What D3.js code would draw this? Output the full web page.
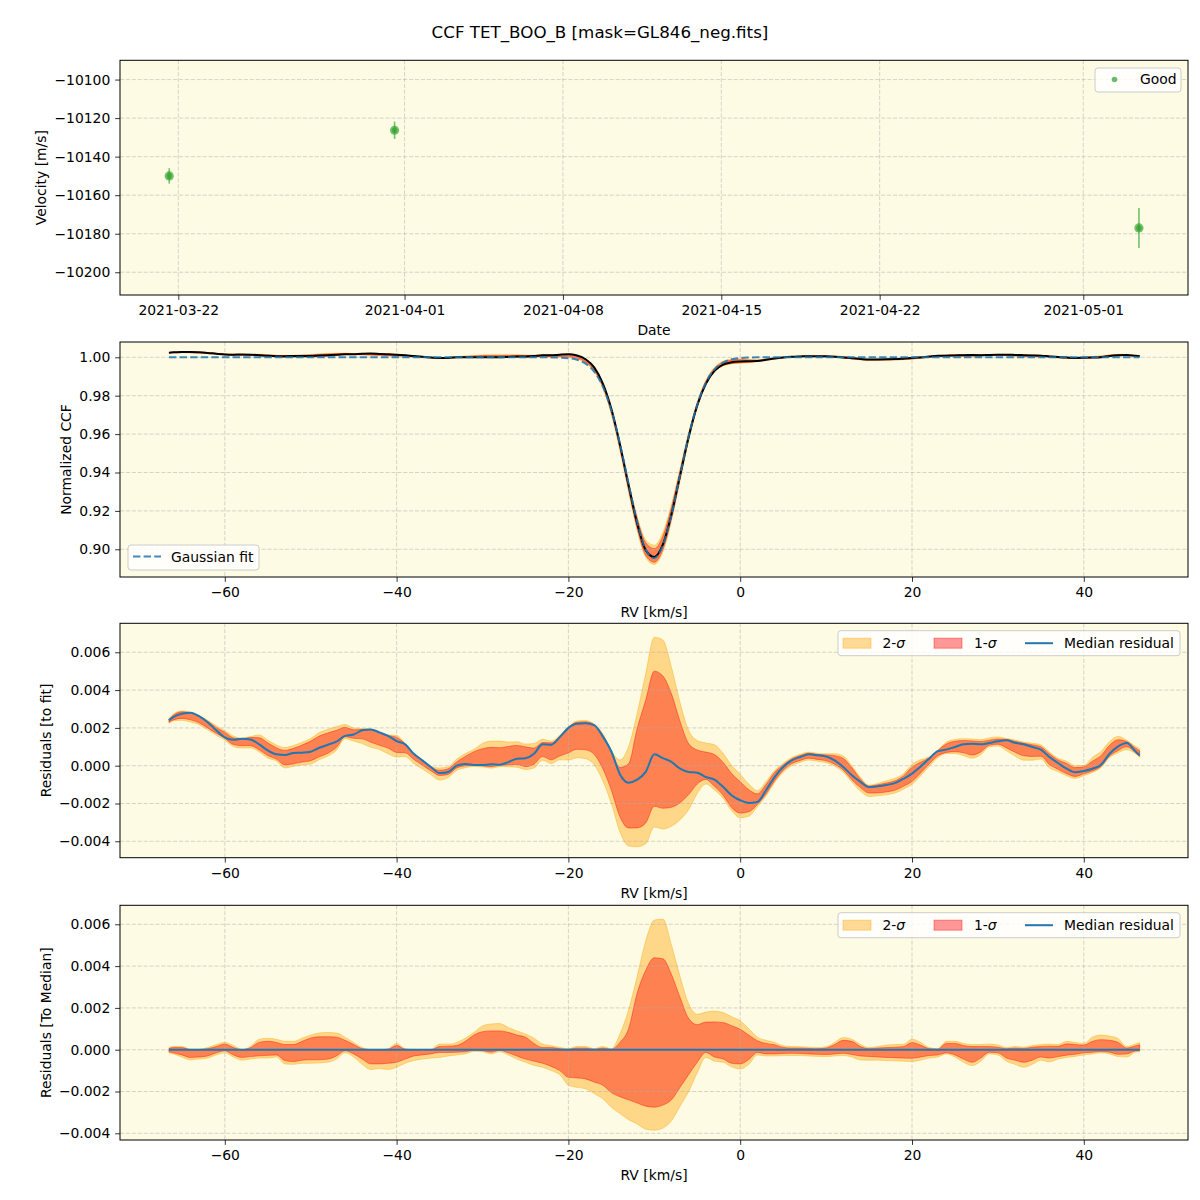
<!DOCTYPE html>
<html><head><meta charset="utf-8">
<script src="https://cdn.jsdelivr.net/npm/d3@7"></script>
<style>
body{margin:0;background:#fff;}
svg{display:block;font-family:"DejaVu Sans",sans-serif;}
</style></head><body>
<svg id="c" width="1200" height="1200"></svg>
<script>
// ---------------- DATA ----------------
const chartTitle = "CCF TET_BOO_B [mask=GL846_neg.fits]";
// Panel 1: RV time series
const obsDates = ["2021-03-21T14:24:00Z", "2021-03-31T13:26:00Z", "2021-05-03T11:02:00Z"];
const obsVel = [-10150, -10126.3, -10177];
const obsErr = [4, 4.5, 10.4];
const dateTicks = ["2021-03-22", "2021-04-01", "2021-04-08", "2021-04-15", "2021-04-22", "2021-05-01"];
const velTicks = [-10100, -10120, -10140, -10160, -10180, -10200];

// RV grid (km/s)
const rv = [-66.5,-66,-65,-64,-63,-62,-61,-60,-59,-58,
  -57,-56,-55,-54,-53,-52,-51,-50,-49,-48,
  -47,-46,-45,-44,-43,-42,-41,-40,-39,-38,
  -37,-36,-35,-34,-33,-32,-31,-30,-29,-28,
  -27,-26,-25,-24,-23,-22,-21,-20,-19,-18,
  -17,-16,-15,-14,-13,-12,-11,-10,-9,-8,
  -7,-6,-5,-4,-3,-2,-1,0,1,2,
  3,4,5,6,7,8,9,10,11,12,
  13,14,15,16,17,18,19,20,21,22,
  23,24,25,26,27,28,29,30,31,32,
  33,34,35,36,37,38,39,40,41,42,
  43,44,45,46,46.5];

// Gaussian fit of the CCF (normalized)
const gaussFit = [1,1,1,1,1,1,1,1,1,1,
  1,1,1,1,1,1,1,1,1,1,
  1,1,1,1,1,1,1,1,1,1,
  1,1,1,1,1,1,1,1,1,1,
  1,1,1,1,0.99999,0.99996,0.99986,0.99955,0.99871,0.99673,
  0.99257,0.98486,0.97242,0.95503,0.93437,0.91433,0.89991,0.89536,0.90210,0.91805,
  0.93862,0.95885,0.97532,0.98675,0.99363,0.99727,0.99895,0.99964,0.99989,0.99997,
  1,1,1,1,1,1,1,1,1,1,
  1,1,1,1,1,1,1,1,1,1,
  1,1,1,1,1,1,1,1,1,1,
  1,1,1,1,1,1,1,1,1,1,
  1,1,1,1,1];

const RES_UNIT = 1e-4; // residual arrays below are in units of 1e-4
// Median residual (CCF - fit)
const medianResidual = [24,25.7,27.5,28,26.2,23,18.7,15,13.7,14.3,
  13.9,11.3,8.1,6,5.6,6.7,6.9,7.4,9.5,11.1,
  12.7,15.8,16.5,18.7,19.2,17.6,15.8,13,11.3,6.3,
  2.8,-0.7,-3.9,-3.3,0,0.9,0.4,0.4,0.7,0.5,
  1.9,3.7,4,6.3,11.3,11.1,15.1,20,22.2,22.4,
  21.5,15.5,7.5,-4.5,-9,-7.4,-3.3,6,4,2,
  -1.6,-3.3,-3.7,-6,-7.4,-11.2,-15.6,-18.3,-19.7,-19.2,
  -13,-6,-0.7,2.8,4.6,6,5.5,4.9,2.8,-0.7,
  -5.1,-8.6,-11.3,-10.9,-10.2,-9.2,-6.9,-4.2,-0.4,3.7,
  7.7,8.5,9.9,11.3,11.6,11.3,12,12.9,13.4,12.1,
  11.3,9.9,8.5,4.6,1.4,-1.6,-3.5,-2.8,-1.6,0.5,
  6.3,10.2,12,7.6,5.5];
// Percentiles of residuals relative to the median (2-sigma upper/lower, 1-sigma upper/lower)
const upper2s = [1,1.5,1.5,0.3,0.3,1,2.5,3.5,2,0.2,
  1.5,5,5.5,5,4,4,5.5,7,8,8.2,
  8,6,3.5,1,0.2,0.2,0.5,3,0.5,0.2,
  0.2,0.2,2.7,2.7,3.5,5.5,8.3,11.4,12.3,12.5,
  10.6,9,7.5,5.5,2.7,1.9,1.1,0.5,1.5,1.5,
  0.5,1.5,0.5,7.5,19,35,52,62,62.5,50,
  35,22,17,18,18.5,17.8,15.8,13.8,10,6,
  4.5,3.5,1.9,1.5,1.4,1.2,1,1.4,3.5,5.8,
  5,2.5,1,1.5,2.2,2.5,2.6,5,3.5,1,
  0.5,4,4,3,2.5,2.5,2.7,2.3,1,1.5,
  1.2,2,2.5,2.7,2.5,4,3.5,3,6,7,
  6.5,5.3,1.5,2.7,3.5];
const upper1s = [0.5,1,1,0,0,0.5,1.5,2.7,1,0,
  1,3.5,4,3.5,2.5,2.5,4,5.6,6.2,6.2,
  6,4.5,2.5,0.5,0,0,0.2,2,0.2,0,
  0,0,1.5,1.7,2,4,7,8.6,9,9,
  8.3,7,6,3,1,1,0.5,0.2,0.8,0.8,
  0.2,0.8,0.2,3.5,10,27,38,44,43.5,36,
  25,15,12,13.2,13.3,13,11.5,9.8,7,4.3,
  3,2.4,1.1,0.8,0.8,0.6,0.5,0.8,2.5,4.5,
  4,1.5,0.5,0.8,1,1.2,1.5,3.4,2.2,0.5,
  0.3,3,3,2,1.5,1.5,1.5,1.2,0.5,0.8,
  0.6,1.2,1.5,1.7,1.6,2.8,2.5,2.2,4,4.8,
  4.5,3.5,0.8,1.8,2.4];
const lower1s = [-1,-1.5,-2.5,-3.7,-3.5,-3,-1.5,-0.5,-2.5,-3.7,
  -3.3,-2.9,-2.7,-2.5,-5.2,-5.7,-5,-4.8,-4.8,-4.5,
  -3,-0.5,-2,-4.5,-6.8,-6.8,-6.5,-6,-4.5,-3,
  -2.5,-2,-1.3,-1.3,-1.2,-1,-0.3,-0.5,-1.2,-0.3,
  -1.5,-3,-4.5,-5.5,-6.5,-8,-10,-13.2,-13.5,-14,
  -15.5,-17,-20.5,-22.5,-24,-25.5,-27,-27.5,-26.5,-24,
  -18,-12,-6,-1.3,-3.5,-4.4,-6.5,-6.8,-4.7,-1.3,
  -2,-2,-1.8,-1.7,-1.8,-2,-2.2,-2.3,-2,-1.7,
  -2.3,-3,-3.2,-3.5,-3.7,-3.8,-4,-4.1,-3.5,-2.8,
  -2.5,-1.5,-2.5,-4.5,-6,-4,-1.2,-1.5,-4,-5,
  -6,-5,-3.5,-4,-3.3,-2.6,-2.2,-1.5,-1.2,-0.9,
  -1.2,-2.2,-2,-0.6,-0.5];
const lower2s = [-1.5,-2,-3.5,-4.9,-4.5,-4,-2.5,-1.5,-3.5,-5,
  -4.5,-4,-4,-3.5,-6.8,-7,-6.5,-6.5,-6.3,-6,
  -4.5,-1.5,-3.5,-7,-9.5,-9,-9.5,-8.4,-6.5,-5.2,
  -4.5,-4,-3.7,-3,-2.5,-2,-0.8,-1,-2,-1,
  -2.5,-4.5,-6,-7.5,-8.4,-10,-12,-17,-18,-18.7,
  -21,-23.5,-27.5,-30.5,-33.5,-35.5,-38,-38.5,-37.5,-34,
  -27,-20,-11,-3.7,-5.5,-6,-8.2,-9.2,-7,-2.5,
  -3,-3,-2.8,-2.8,-2.8,-3,-3.2,-3.3,-3,-2.8,
  -3.5,-4.9,-5,-5,-5.2,-5.3,-5.5,-5.6,-5,-4,
  -3.5,-2,-3.5,-6,-7.6,-5.5,-2,-2.5,-5.5,-7,
  -8.4,-7,-5,-5.8,-4.5,-3.7,-3.2,-2.5,-2,-1.5,
  -2,-3.3,-3.5,-1.2,-1];
// Median of residuals relative to the median (flat line) at the grid ends
const medianToMedianRv = [-66.5, 46.5];
const medianToMedian = [0, 0];

const rvTicks = [-60, -40, -20, 0, 20, 40];
const ccfTicks = [0.90, 0.92, 0.94, 0.96, 0.98, 1.00];
const resTicks = [-0.004, -0.002, 0, 0.002, 0.004, 0.006];

// ---------------- LAYOUT / STYLE ----------------
const X0 = 120, X1 = 1188;
const BG = "#fdfbe3";
const FS = 13.9;
const TICK = 4.86;
const C_BLUE = "#1f77b4";
const C_GREEN = "#2ca02c";

const svg = d3.select("#c");
svg.append("rect").attr("width", 1200).attr("height", 1200).attr("fill", "#fff");

svg.append("text").attr("x", 600).attr("y", 38).attr("text-anchor", "middle")
  .attr("font-size", 16.7).attr("fill", "#000").text(chartTitle);

// table built from arrays
const rows = rv.map((v, i) => {
  const fit = gaussFit[i];
  const med = medianResidual[i] * RES_UNIT;
  return {
    rv: v, fit: fit, med: med,
    u2: upper2s[i] * RES_UNIT, u1: upper1s[i] * RES_UNIT,
    l1: lower1s[i] * RES_UNIT, l2: lower2s[i] * RES_UNIT
  };
});

const rvScale = () => d3.scaleLinear().domain([-72.2, 52.13]).range([X0, X1]);

function makePanel(top, bottom) {
  const g = svg.append("g");
  g.append("rect").attr("x", X0).attr("y", top).attr("width", X1 - X0).attr("height", bottom - top).attr("fill", BG);
  return g;
}
function grid(g, x, y, xt, yt, top, bottom) {
  const gg = g.append("g").attr("stroke", "#b0b0b0").attr("stroke-opacity", 0.65)
    .attr("stroke-width", 0.8).attr("stroke-dasharray", "4.1,1.8");
  xt.forEach(t => gg.append("line").attr("x1", x(t)).attr("x2", x(t)).attr("y1", top).attr("y2", bottom));
  yt.forEach(t => gg.append("line").attr("x1", X0).attr("x2", X1).attr("y1", y(t)).attr("y2", y(t)));
}
function axes(g, x, y, xt, yt, xfmt, yfmt, top, bottom) {
  g.append("rect").attr("x", X0).attr("y", top).attr("width", X1 - X0).attr("height", bottom - top)
    .attr("fill", "none").attr("stroke", "#000").attr("stroke-width", 1);
  const ax = g.append("g").attr("transform", `translate(0,${bottom})`)
    .call(d3.axisBottom(x).tickValues(xt).tickFormat(xfmt).tickSize(TICK).tickPadding(TICK));
  ax.select(".domain").remove();
  ax.selectAll("text").attr("font-size", FS).attr("font-family", "DejaVu Sans").attr("fill", "#000").attr("dy", "0.76em");
  ax.selectAll("line").attr("stroke", "#000").attr("stroke-width", 0.8);
  const ay = g.append("g").attr("transform", `translate(${X0},0)`)
    .call(d3.axisLeft(y).tickValues(yt).tickFormat(yfmt).tickSize(TICK).tickPadding(TICK));
  ay.select(".domain").remove();
  ay.selectAll("text").attr("font-size", FS).attr("font-family", "DejaVu Sans").attr("fill", "#000");
  ay.selectAll("line").attr("stroke", "#000").attr("stroke-width", 0.8);
}
function xlabel(txt, yb) {
  svg.append("text").attr("x", (X0 + X1) / 2).attr("y", yb).attr("text-anchor", "middle")
    .attr("font-size", FS).attr("fill", "#000").text(txt);
}
function ylabel(txt, xc, yc) {
  svg.append("text").attr("transform", `translate(${xc},${yc}) rotate(-90)`)
    .attr("text-anchor", "middle").attr("dy", "0.35em").attr("font-size", FS).attr("fill", "#000").text(txt);
}
function legendBox(g, x, y, w, h) {
  g.append("rect").attr("x", x).attr("y", y).attr("width", w).attr("height", h).attr("rx", 3)
    .attr("fill", "#fff").attr("fill-opacity", 0.8).attr("stroke", "#cccccc").attr("stroke-width", 1);
}
function bandPath(g, data, x, y, lo, hi, color) {
  const area = d3.area().x(d => x(d.rv)).y0(d => y(lo(d))).y1(d => y(hi(d))).curve(d3.curveMonotoneX);
  g.append("path").datum(data).attr("d", area).attr("fill", color).attr("fill-opacity", 0.4)
    .attr("stroke", color).attr("stroke-opacity", 0.4).attr("stroke-width", 1);
}
function sigmaLegend(g, top) {
  const ly = top + 7.4;
  legendBox(g, 838, ly, 342, 25);
  const cy = ly + 12.5;
  g.append("rect").attr("x", 843).attr("y", cy - 5).attr("width", 28).attr("height", 10)
    .attr("fill", "orange").attr("fill-opacity", 0.4).attr("stroke", "orange").attr("stroke-opacity", 0.4);
  const t1 = g.append("text").attr("x", 882.5).attr("y", cy + 5).attr("font-size", FS).attr("fill", "#000");
  t1.append("tspan").text("2-");
  t1.append("tspan").attr("font-style", "italic").text("σ");
  g.append("rect").attr("x", 934).attr("y", cy - 5).attr("width", 28).attr("height", 10)
    .attr("fill", "red").attr("fill-opacity", 0.4).attr("stroke", "red").attr("stroke-opacity", 0.4);
  const t2 = g.append("text").attr("x", 974).attr("y", cy + 5).attr("font-size", FS).attr("fill", "#000");
  t2.append("tspan").text("1-");
  t2.append("tspan").attr("font-style", "italic").text("σ");
  g.append("line").attr("x1", 1025).attr("x2", 1053).attr("y1", cy).attr("y2", cy)
    .attr("stroke", C_BLUE).attr("stroke-width", 2);
  g.append("text").attr("x", 1064).attr("y", cy + 5).attr("font-size", FS).attr("fill", "#000").text("Median residual");
}

// ---------------- PANEL 1 ----------------
{
  const top = 60.3, bottom = 295;
  const parse = d3.utcParse("%Y-%m-%d");
  const parseT = d3.isoParse;
  const d0 = parse("2021-03-22"), d1 = parse("2021-05-01");
  const day = 86400000;
  const x = d3.scaleUtc().domain([new Date(+d0 - 2.577 * day), new Date(+d1 + 4.628 * day)]).range([X0, X1]);
  const y = d3.scaleLinear().domain([-10211.8, -10090]).range([bottom, top]);
  const g = makePanel(top, bottom);
  const xt = dateTicks.map(parse);
  grid(g, x, y, xt, velTicks, top, bottom);
  const pts = obsDates.map((d, i) => ({ t: parseT(d), v: obsVel[i], e: obsErr[i] }));
  pts.forEach(p => {
    g.append("line").attr("x1", x(p.t)).attr("x2", x(p.t)).attr("y1", y(p.v - p.e)).attr("y2", y(p.v + p.e))
      .attr("stroke", C_GREEN).attr("stroke-opacity", 0.65).attr("stroke-width", 1.6);
    g.append("circle").attr("cx", x(p.t)).attr("cy", y(p.v)).attr("r", 4.6)
      .attr("fill", C_GREEN).attr("fill-opacity", 0.65);
    g.append("circle").attr("cx", x(p.t)).attr("cy", y(p.v)).attr("r", 2.8)
      .attr("fill", C_GREEN).attr("fill-opacity", 0.6);
  });
  axes(g, x, y, xt, velTicks, d3.utcFormat("%Y-%m-%d"), d3.format("d"), top, bottom);
  legendBox(g, 1095, 68, 86, 24);
  g.append("circle").attr("cx", 1114.5).attr("cy", 79.5).attr("r", 2.8).attr("fill", C_GREEN).attr("fill-opacity", 0.7);
  g.append("text").attr("x", 1140).attr("y", 84).attr("font-size", FS).attr("fill", "#000").text("Good");
  xlabel("Date", 335);
  ylabel("Velocity [m/s]", 41.5, (top + bottom) / 2);
}

// ---------------- PANEL 2 ----------------
{
  const top = 342, bottom = 577;
  const x = rvScale();
  const y = d3.scaleLinear().domain([0.88557, 1.00797]).range([bottom, top]);
  const g = makePanel(top, bottom);
  bandPath(g, rows, x, y, d => d.fit + d.med + d.l2, d => d.fit + d.med + d.u2, "orange");
  bandPath(g, rows, x, y, d => d.fit + d.med + d.l1, d => d.fit + d.med + d.u1, "red");
  grid(g, x, y, rvTicks, ccfTicks, top, bottom);
  const lineCCF = d3.line().x(d => x(d.rv)).y(d => y(d.fit + d.med)).curve(d3.curveMonotoneX);
  g.append("path").datum(rows).attr("d", lineCCF).attr("fill", "none").attr("stroke", "#000").attr("stroke-width", 2);
  const lineFit = d3.line().x(d => x(d.rv)).y(d => y(d.fit)).curve(d3.curveMonotoneX);
  g.append("path").datum(rows).attr("d", lineFit).attr("fill", "none").attr("stroke", C_BLUE)
    .attr("stroke-opacity", 0.85).attr("stroke-width", 2).attr("stroke-dasharray", "7.4,3.2");
  axes(g, x, y, rvTicks, ccfTicks, d3.format("d"), d3.format(".2f"), top, bottom);
  legendBox(g, 128, 545, 131, 25);
  g.append("line").attr("x1", 133).attr("x2", 161).attr("y1", 556.5).attr("y2", 556.5)
    .attr("stroke", C_BLUE).attr("stroke-opacity", 0.85).attr("stroke-width", 2).attr("stroke-dasharray", "7.4,3.2");
  g.append("text").attr("x", 171).attr("y", 561.5).attr("font-size", FS).attr("fill", "#000").text("Gaussian fit");
  xlabel("RV [km/s]", 617);
  ylabel("Normalized CCF", 66, (top + bottom) / 2);
}

// ---------------- PANEL 3 ----------------
{
  const top = 623.3, bottom = 857.7;
  const x = rvScale();
  const y = d3.scaleLinear().domain([-0.004868, 0.007534]).range([bottom, top]);
  const g = makePanel(top, bottom);
  bandPath(g, rows, x, y, d => d.med + d.l2, d => d.med + d.u2, "orange");
  bandPath(g, rows, x, y, d => d.med + d.l1, d => d.med + d.u1, "red");
  grid(g, x, y, rvTicks, resTicks, top, bottom);
  const lineMed = d3.line().x(d => x(d.rv)).y(d => y(d.med)).curve(d3.curveMonotoneX);
  g.append("path").datum(rows).attr("d", lineMed).attr("fill", "none").attr("stroke", C_BLUE).attr("stroke-width", 2);
  axes(g, x, y, rvTicks, resTicks, d3.format("d"), d3.format(".3f"), top, bottom);
  sigmaLegend(g, top);
  xlabel("RV [km/s]", 898);
  ylabel("Residuals [to fit]", 46, (top + bottom) / 2);
}

// ---------------- PANEL 4 ----------------
{
  const top = 905.3, bottom = 1140;
  const x = rvScale();
  const y = d3.scaleLinear().domain([-0.00432, 0.006909]).range([bottom, top]);
  const g = makePanel(top, bottom);
  bandPath(g, rows, x, y, d => d.l2, d => d.u2, "orange");
  bandPath(g, rows, x, y, d => d.l1, d => d.u1, "red");
  grid(g, x, y, rvTicks, resTicks, top, bottom);
  const flat = medianToMedianRv.map((v, i) => ({ rv: v, m: medianToMedian[i] }));
  const lineFlat = d3.line().x(d => x(d.rv)).y(d => y(d.m));
  g.append("path").datum(flat).attr("d", lineFlat).attr("fill", "none").attr("stroke", C_BLUE).attr("stroke-width", 2);
  axes(g, x, y, rvTicks, resTicks, d3.format("d"), d3.format(".3f"), top, bottom);
  sigmaLegend(g, top);
  xlabel("RV [km/s]", 1180);
  ylabel("Residuals [To Median]", 46, (top + bottom) / 2);
}
</script>
</body></html>
